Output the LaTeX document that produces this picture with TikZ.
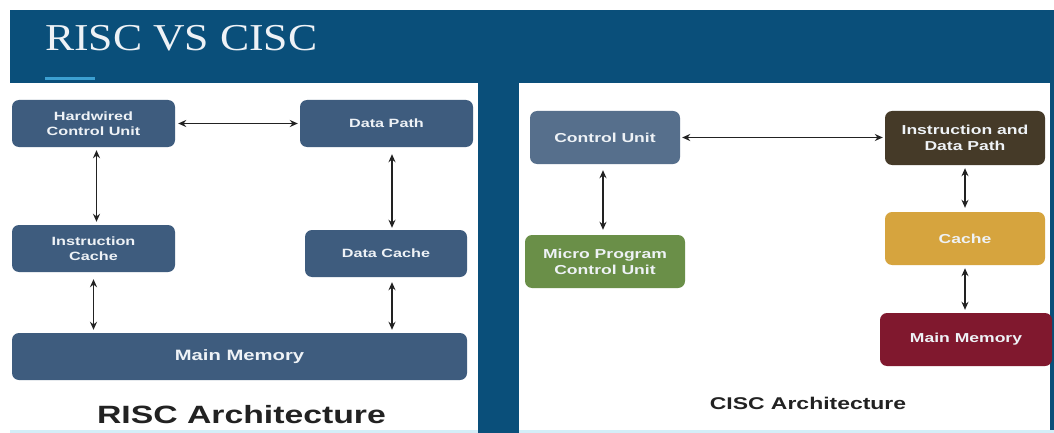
\documentclass[tikz,border=0pt]{standalone}
\usepackage{fontspec}
\usetikzlibrary{arrows.meta}
\newfontfamily\bxfont{Liberation Sans}[FakeStretch=1.35]
\newfontfamily\ttlfont{Liberation Serif}[FakeStretch=1.15]
\definecolor{bgblue}{HTML}{0A4F7A}
\definecolor{accent}{HTML}{3CA0D2}
\definecolor{strip}{HTML}{D4EEF8}
\definecolor{slate}{HTML}{3E5C7E}
\definecolor{cuslate}{HTML}{566F8C}
\definecolor{brownd}{HTML}{453A28}
\definecolor{greenm}{HTML}{6A8F48}
\definecolor{goldc}{HTML}{D6A43E}
\definecolor{redm}{HTML}{80182E}
\definecolor{boxtext}{HTML}{EEF2F6}
\definecolor{lbl}{HTML}{222222}
\tikzset{
  box/.style={rounded corners=7pt, text=boxtext, align=center, inner sep=0pt,
    font=\bxfont\bfseries\fontsize{12}{15}\selectfont},
  conn/.style={draw=lbl, line width=1.8pt, {Stealth[length=8pt,width=7pt]}-{Stealth[length=8pt,width=7pt]}},
  panel/.style={fill=white, draw=none},
}
\begin{document}
\begin{tikzpicture}[x=1pt,y=-1pt]
\useasboundingbox (0,0) rectangle (1054,433);
\fill[white] (0,0) rectangle (1054,433);
\fill[bgblue] (10,10) rectangle (1054,433);
\fill[accent] (45,77) rectangle (95,80);
\node[anchor=base west, inner sep=0pt, text=boxtext, font=\ttlfont\fontsize{38}{40}\selectfont] (title) at (45,51) {RISC VS CISC};
\fill[panel] (10,83) rectangle (478,430);
\fill[panel] (519,83) rectangle (1050,430);
\fill[strip] (10,430) rectangle (478,433);
\fill[strip] (519,430) rectangle (1054,433);
% RISC
\node[box, fill=slate, minimum width=163pt, minimum height=47pt] (hcu) at (93.5,123.5) {Hardwired\\Control Unit};
\node[box, fill=slate, minimum width=173pt, minimum height=47pt] (dp) at (386.5,123.5) {Data Path};
\node[box, fill=slate, minimum width=163pt, minimum height=47pt] (ic) at (93.5,248.5) {Instruction\\Cache};
\node[box, fill=slate, minimum width=162pt, minimum height=47pt] (dc) at (386,253.5) {Data Cache};
\node[box, fill=slate, minimum width=455pt, minimum height=47pt, font=\bxfont\bfseries\fontsize{15}{18}\selectfont] (mm) at (239.5,356.5) {Main Memory};
\node[text=lbl, inner sep=0pt, font=\bxfont\bfseries\fontsize{25}{28}\selectfont] (risc) at (241.5,414.5) {RISC Architecture};
\draw[conn, shorten <=3pt, shorten >=2pt] (hcu.east) -- (dp.west);
\draw[conn, shorten <=3pt, shorten >=3pt] ([xshift=3pt]hcu.south) -- ([xshift=3pt]ic.north);
\draw[conn, shorten <=7pt, shorten >=2pt] ([xshift=5.5pt]dp.south) -- ([xshift=6pt]dc.north);
\draw[conn, shorten <=7pt, shorten >=3pt] (ic.south) -- (ic.south |- mm.north);
\draw[conn, shorten <=5pt, shorten >=3pt] ([xshift=6pt]dc.south) -- ([xshift=6pt]dc.south |- mm.north);
% CISC
\node[box, fill=cuslate, minimum width=150pt, minimum height=53pt, font=\bxfont\bfseries\fontsize{13}{16}\selectfont] (cu) at (605,137.5) {Control Unit};
\node[box, fill=brownd, minimum width=160pt, minimum height=54pt, font=\bxfont\bfseries\fontsize{13}{16}\selectfont] (idp) at (965,138) {Instruction and\\Data Path};
\node[box, fill=greenm, minimum width=160pt, minimum height=53pt, font=\bxfont\bfseries\fontsize{13}{16}\selectfont] (mpcu) at (605,261.5) {Micro Program\\Control Unit};
\node[box, fill=goldc, minimum width=160pt, minimum height=53pt, font=\bxfont\bfseries\fontsize{13}{16}\selectfont] (cache) at (965,238.5) {Cache};
\node[box, fill=redm, minimum width=172pt, minimum height=53pt, font=\bxfont\bfseries\fontsize{13}{16}\selectfont] (mm2) at (966,339.5) {Main Memory};
\node[text=lbl, inner sep=0pt, font=\bxfont\bfseries\fontsize{17}{20}\selectfont] (cisc) at (808,403) {CISC Architecture};
\draw[conn, shorten <=2pt, shorten >=2pt] (cu.east) -- (cu.east -| idp.west);
\draw[conn, shorten <=6pt, shorten >=5pt] ([xshift=-2pt]cu.south) -- ([xshift=-2pt]mpcu.north);
\draw[conn, shorten <=3pt, shorten >=4pt] (idp.south) -- (cache.north);
\draw[conn, shorten <=3pt, shorten >=3pt] (cache.south) -- (cache.south |- mm2.north);
\end{tikzpicture}
\end{document}
